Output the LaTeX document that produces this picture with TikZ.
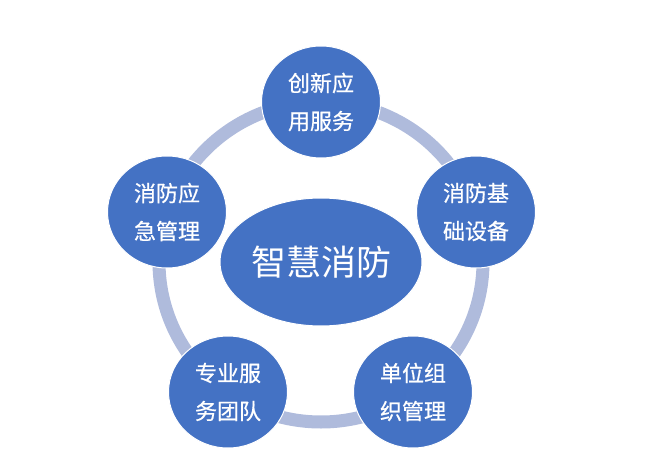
\documentclass[tikz,border=0pt]{standalone}
\usepackage{fontspec}
\newfontfamily\cjk{Noto Sans CJK SC}
\newfontfamily\cjkmed[FakeBold=0.6]{Noto Sans CJK SC}
\usepackage{tikz}
\usetikzlibrary{shapes.geometric, positioning, calc}
\definecolor{fireblue}{HTML}{4472C4}
\definecolor{ringblue}{HTML}{AFBBDC}

\begin{document}
\begin{tikzpicture}[
  x=1pt, y=-1pt,
  part/.style={ellipse, draw=white, line width=1pt, fill=fireblue, text=white, minimum width=119pt, minimum height=112pt, inner sep=0pt, align=center, font=\cjkmed\fontsize{22}{38}\selectfont},
  hub/.style={ellipse, draw=white, line width=1pt, fill=fireblue, text=white, minimum width=202pt, minimum height=128pt, inner sep=0pt, font=\cjk\fontsize{35}{40}\selectfont},
  ring/.style={draw=ringblue, line width=13pt}
]
  \useasboundingbox (0,0) rectangle (647,470);
  \coordinate (mid) at (321,262);
  \draw[ring] (mid) ellipse [x radius=162pt, y radius=160pt];

  \node[hub] (core) at (mid) {智慧消防};
  \node[part] (app) at (321,102) {创新应\\用服务};
  \node[part] (infra) at (476,212) {消防基\\础设备};
  \node[part] (unit) at (413,392) {单位组\\织管理};
  \node[part] (team) at (228,392) {专业服\\务团队};
  \node[part] (emerg) at (167,212) {消防应\\急管理};
\end{tikzpicture}
\end{document}
